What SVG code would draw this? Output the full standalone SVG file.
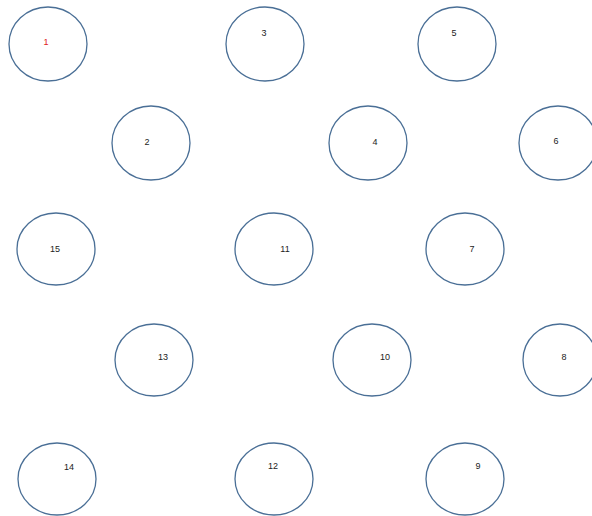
<svg xmlns="http://www.w3.org/2000/svg" width="592" height="516" viewBox="0 0 592 516">
<style>
.n ellipse{fill:#fff;stroke:#4a6f96;stroke-width:1.3}
.n text{font-family:"Liberation Sans",Arial,sans-serif;font-size:9px;fill:#222;text-anchor:middle}
.n text.red{fill:#e02020}
</style>
<rect width="592" height="516" fill="#fff"/>
<g id="connectors"></g>
<g id="n1" class="n"><ellipse cx="48" cy="44" rx="39" ry="37"/><text class="red" x="46" y="45">1</text></g>
<g id="n2" class="n"><ellipse cx="151" cy="143" rx="39" ry="37"/><text x="147" y="145">2</text></g>
<g id="n3" class="n"><ellipse cx="265" cy="44" rx="39" ry="37"/><text x="264" y="36">3</text></g>
<g id="n4" class="n"><ellipse cx="368" cy="143" rx="39" ry="37"/><text x="375" y="145">4</text></g>
<g id="n5" class="n"><ellipse cx="457" cy="44" rx="39" ry="37"/><text x="454" y="36">5</text></g>
<g id="n6" class="n"><ellipse cx="558" cy="143" rx="39" ry="37"/><text x="556" y="144">6</text></g>
<g id="n15" class="n"><ellipse cx="56" cy="249" rx="39" ry="36"/><text x="55" y="252">15</text></g>
<g id="n11" class="n"><ellipse cx="274" cy="249" rx="39" ry="36"/><text x="285" y="252">11</text></g>
<g id="n7" class="n"><ellipse cx="465" cy="249" rx="39" ry="36"/><text x="472" y="252">7</text></g>
<g id="n13" class="n"><ellipse cx="154" cy="360" rx="39" ry="36"/><text x="163" y="360">13</text></g>
<g id="n10" class="n"><ellipse cx="372" cy="360" rx="39" ry="36"/><text x="385" y="360">10</text></g>
<g id="n8" class="n"><ellipse cx="560" cy="360" rx="37" ry="36"/><text x="564" y="360">8</text></g>
<g id="n14" class="n"><ellipse cx="57" cy="479" rx="39" ry="36"/><text x="69" y="470">14</text></g>
<g id="n12" class="n"><ellipse cx="274" cy="479" rx="39" ry="36"/><text x="273" y="469">12</text></g>
<g id="n9" class="n"><ellipse cx="465" cy="479" rx="39" ry="36"/><text x="478" y="469">9</text></g>
</svg>
